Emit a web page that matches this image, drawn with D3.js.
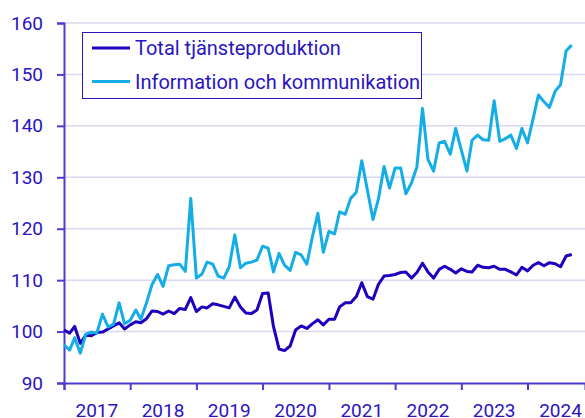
<!DOCTYPE html>
<html>
<head>
<meta charset="utf-8">
<script src="https://cdn.jsdelivr.net/npm/d3@7"></script>
<style>
  body { margin: 0; background: #fff; }
  svg { display: block; font-family: Roboto, "Noto Sans", sans-serif; }
</style>
</head>
<body>
<div id="chart"></div>
<script>
// monthly index values, Jan 2017 - Sep 2024
const months = d3.timeMonth.range(new Date(2017, 0, 1), new Date(2024, 9, 1));

const seriesNames = ["Total tjänsteproduktion", "Information och kommunikation"];

const totalValues = [
  100.3, 99.7, 101.0, 97.7, 99.3, 99.2, 99.8, 99.9, 100.5, 101.1, 101.7, 100.5,
  101.3, 101.9, 101.7, 102.5, 104.0, 103.9, 103.4, 104.0, 103.5, 104.5, 104.3, 106.6,
  103.9, 104.8, 104.6, 105.4, 105.2, 104.9, 104.6, 106.7, 104.8, 103.6, 103.5, 104.2,
  107.4, 107.5, 101.0, 96.6, 96.3, 97.2, 100.3, 101.1, 100.6, 101.5, 102.3, 101.3,
  102.4, 102.4, 104.8, 105.6, 105.6, 106.8, 109.5, 106.8, 106.3, 109.2, 110.8, 110.9,
  111.1, 111.5, 111.6, 110.4, 111.5, 113.3, 111.6, 110.4, 112.1, 112.7, 112.1, 111.4,
  112.2, 111.7, 111.6, 112.9, 112.5, 112.4, 112.7, 112.1, 112.1, 111.6, 111.0, 112.5,
  111.8, 112.9, 113.4, 112.8, 113.4, 113.2, 112.6, 114.7, 115.0
];

const infoValues = [
  97.4, 96.4, 98.8, 95.8, 99.5, 99.9, 99.7, 103.4, 100.9, 101.4, 105.6, 101.5,
  102.2, 104.2, 102.4, 105.6, 109.1, 111.1, 108.8, 112.8, 113.0, 113.1, 111.7, 125.9,
  110.4, 111.2, 113.5, 113.1, 110.8, 110.4, 112.6, 118.8, 112.4, 113.3, 113.5, 113.9,
  116.6, 116.2, 111.6, 115.2, 112.9, 111.9, 115.4, 114.9, 113.1, 118.3, 123.0, 115.4,
  119.5, 119.0, 123.3, 122.8, 125.9, 127.1, 133.2, 127.5, 121.8, 125.8, 132.1, 127.9,
  131.8, 131.8, 126.8, 128.9, 132.0, 143.4, 133.5, 131.2, 136.7, 137.0, 134.5, 139.5,
  135.3, 131.2, 137.2, 138.2, 137.3, 137.2, 144.9, 137.0, 137.5, 138.2, 135.6, 139.5,
  136.7, 141.4, 146.0, 144.7, 143.6, 146.7, 148.0, 154.6, 155.7
];

const yTicks = [90, 100, 110, 120, 130, 140, 150, 160];
const yearLabels = [2017, 2018, 2019, 2020, 2021, 2022, 2023, 2024];

const colors = ["#1e00be", "#14ade6"];
const inkColor = "#2a14c0";
const axisColor = "#4b3bce";
const gridColor = "#dad7f0";

const width = 585, height = 418;
const margin = { top: 23, right: 0, bottom: 35, left: 64 };

const svg = d3.select("#chart")
  .append("svg")
  .attr("width", width)
  .attr("height", height);

const x = d3.scaleTime()
  .domain([new Date(2017, 0, 1), new Date(2024, 10, 13)])
  .range([margin.left, width - margin.right]);

const y = d3.scaleLinear()
  .domain([90, 160])
  .range([height - margin.bottom, margin.top]);

// gridlines
svg.append("g")
  .selectAll("line")
  .data(yTicks.filter(d => d > 90))
  .join("line")
  .attr("x1", margin.left)
  .attr("x2", width - margin.right)
  .attr("y1", d => y(d))
  .attr("y2", d => y(d))
  .attr("stroke", gridColor)
  .attr("stroke-width", 1.5);

// y axis
const yAxis = svg.append("g")
  .attr("transform", `translate(${margin.left},0)`)
  .call(d3.axisLeft(y).tickValues(yTicks).tickSize(7).tickPadding(14));
yAxis.select(".domain").attr("stroke", axisColor).attr("stroke-width", 2);
yAxis.selectAll(".tick line").attr("stroke", axisColor).attr("stroke-width", 2);
yAxis.selectAll(".tick text")
  .attr("fill", inkColor)
  .style("font-size", "19px")
  .style("font-family", "Roboto, sans-serif");

// x axis: ticks at year boundaries, labels centred in each year
const xAxis = svg.append("g")
  .attr("transform", `translate(0,${y(90)})`)
  .call(d3.axisBottom(x)
    .tickValues(yearLabels.map(yr => new Date(yr, 0, 1)))
    .tickSize(7)
    .tickFormat(""));
xAxis.select(".domain").attr("stroke", axisColor).attr("stroke-width", 2);
xAxis.selectAll(".tick line").attr("stroke", axisColor).attr("stroke-width", 2);

svg.append("g")
  .selectAll("text")
  .data(yearLabels)
  .join("text")
  .attr("x", d => x(new Date(d, 6, 1)))
  .attr("y", y(90) + 34)
  .attr("text-anchor", "middle")
  .attr("fill", inkColor)
  .style("font-size", "19px")
  .text(d => d);

// lines
const line = d3.line()
  .x((d, i) => x(months[i]))
  .y(d => y(d));

[totalValues, infoValues].forEach((vals, k) => {
  svg.append("path")
    .datum(vals)
    .attr("fill", "none")
    .attr("stroke", colors[k])
    .attr("stroke-width", 3)
    .attr("stroke-linejoin", "round")
    .attr("d", line);
});

// legend
const legend = svg.append("g");
legend.append("rect")
  .attr("x", 82.5)
  .attr("y", 32.5)
  .attr("width", 339)
  .attr("height", 66)
  .attr("fill", "#fff")
  .attr("stroke", inkColor)
  .attr("stroke-width", 1);

seriesNames.forEach((name, k) => {
  const ly = 48 + k * 33.5;
  legend.append("line")
    .attr("x1", 92).attr("x2", 130)
    .attr("y1", ly).attr("y2", ly)
    .attr("stroke", colors[k])
    .attr("stroke-width", 3);
  legend.append("text")
    .attr("x", 135)
    .attr("y", ly + 7)
    .attr("fill", inkColor)
    .style("font-size", "20px")
    .text(name);
});
</script>
</body>
</html>
